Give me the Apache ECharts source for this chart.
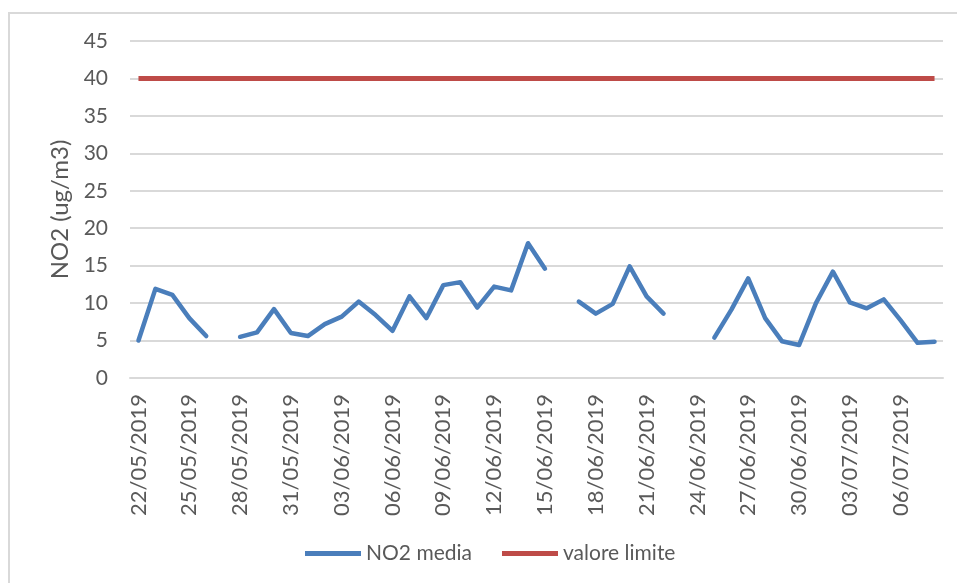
<!DOCTYPE html>
<html>
<head>
<meta charset="utf-8">
<script src="https://cdn.jsdelivr.net/npm/echarts@6/dist/echarts.min.js"></script>
<style>
  html, body { margin: 0; padding: 0; background: #fff; }
  #chart { width: 957px; height: 583px; }
</style>
</head>
<body>
<div id="chart"></div>
<script>
// giorni di misura (22/05/2019 - 08/07/2019)
var dates = [
  '22/05/2019','23/05/2019','24/05/2019','25/05/2019','26/05/2019','27/05/2019',
  '28/05/2019','29/05/2019','30/05/2019','31/05/2019','01/06/2019','02/06/2019',
  '03/06/2019','04/06/2019','05/06/2019','06/06/2019','07/06/2019','08/06/2019',
  '09/06/2019','10/06/2019','11/06/2019','12/06/2019','13/06/2019','14/06/2019',
  '15/06/2019','16/06/2019','17/06/2019','18/06/2019','19/06/2019','20/06/2019',
  '21/06/2019','22/06/2019','23/06/2019','24/06/2019','25/06/2019','26/06/2019',
  '27/06/2019','28/06/2019','29/06/2019','30/06/2019','01/07/2019','02/07/2019',
  '03/07/2019','04/07/2019','05/07/2019','06/07/2019','07/07/2019','08/07/2019'
];
// media giornaliera NO2 (null = dato mancante)
var no2Media = [
  5.0, 11.9, 11.1, 8.0, 5.6, null,
  5.5, 6.1, 9.2, 6.0, 5.6, 7.2,
  8.2, 10.2, 8.4, 6.3, 10.9, 8.0,
  12.4, 12.8, 9.4, 12.2, 11.7, 18.0,
  14.6, null, 10.2, 8.6, 9.9, 14.9,
  10.9, 8.6, null, null, 5.4, 9.1,
  13.3, 8.0, 4.9, 4.4, 10.0, 14.2,
  10.1, 9.3, 10.5, 7.7, 4.7, 4.85
];
var limite = 40;
var valoreLimite = dates.map(function () { return limite; });

var font = 'Lato';
var grey = '#595959';
var gridCol = '#d9d9d9';
var blu = '#4a7ebb';
var rosso = '#be4b48';

var chart = echarts.init(document.getElementById('chart'));
chart.setOption({
  animation: false,
  textStyle: { fontFamily: font },
  graphic: [{
    type: 'rect',
    shape: { x: 9, y: 13, width: 1000, height: 650 },
    style: { fill: 'none', stroke: gridCol, lineWidth: 2 },
    silent: true
  }],
  grid: { left: 130, right: 14, top: 41, bottom: 205 },
  legend: {
    left: 300,
    top: 538,
    itemWidth: 56,
    itemHeight: 5,
    itemGap: 30,
    textStyle: { fontFamily: font, fontSize: 21, color: grey },
    data: [
      { name: 'NO2 media', icon: 'rect' },
      { name: 'valore limite', icon: 'rect' }
    ]
  },
  xAxis: {
    type: 'category',
    data: dates,
    boundaryGap: true,
    axisLine: { lineStyle: { color: gridCol, width: 2 } },
    axisTick: { interval: 2, length: 7, lineStyle: { color: gridCol, width: 1 } },
    axisLabel: { interval: 2, rotate: 90, margin: 16, fontFamily: font, fontSize: 22, color: grey }
  },
  yAxis: {
    type: 'value',
    min: 0, max: 45, interval: 5,
    name: 'NO2 (ug/m3)',
    nameLocation: 'middle',
    nameGap: 54,
    nameTextStyle: { fontFamily: font, fontSize: 24, color: grey },
    axisLine: { show: false },
    axisTick: { show: false },
    axisLabel: { margin: 22, fontFamily: font, fontSize: 21, color: grey },
    splitLine: { lineStyle: { color: gridCol, width: 2 } }
  },
  series: [
    {
      name: 'NO2 media',
      type: 'line',
      data: no2Media,
      symbol: 'none',
      connectNulls: false,
      lineStyle: { color: blu, width: 4.5, join: 'round', cap: 'round' },
      itemStyle: { color: blu }
    },
    {
      name: 'valore limite',
      type: 'line',
      data: valoreLimite,
      symbol: 'none',
      lineStyle: { color: rosso, width: 5 },
      itemStyle: { color: rosso }
    }
  ]
});
</script>
</body>
</html>
